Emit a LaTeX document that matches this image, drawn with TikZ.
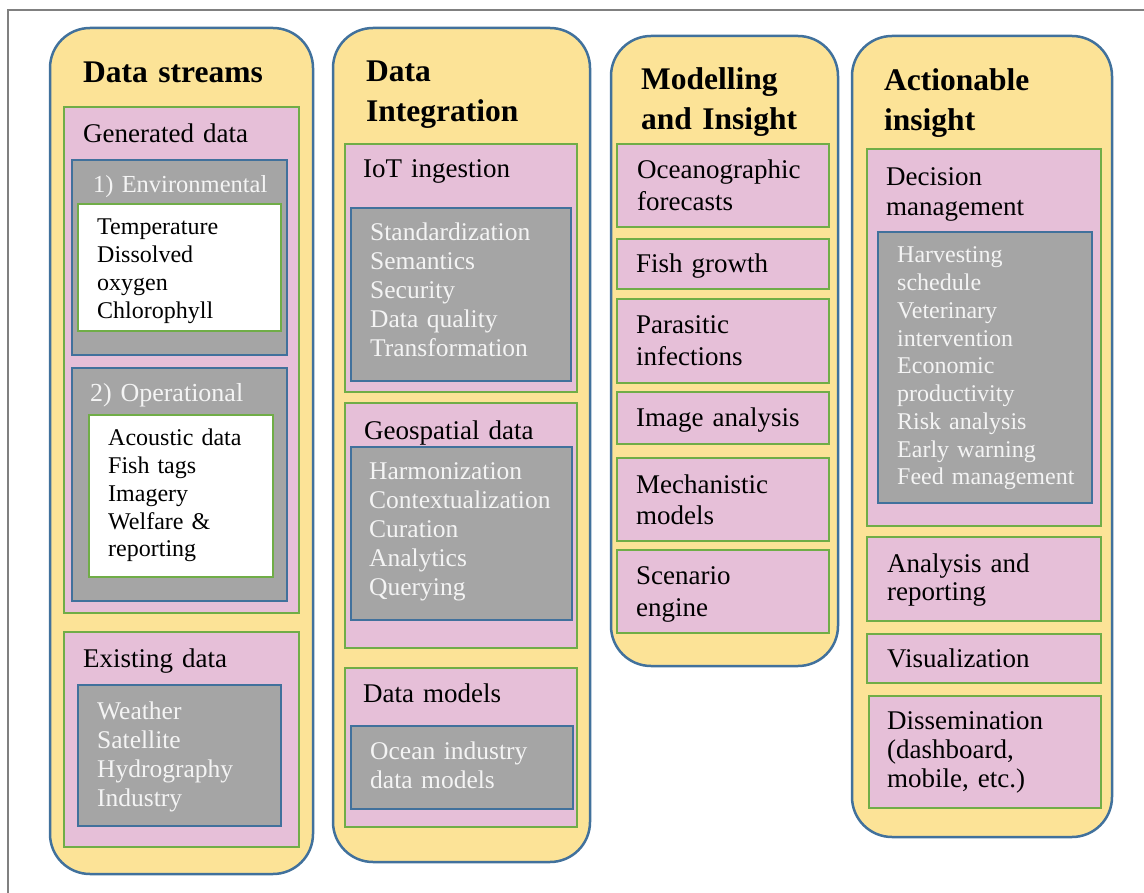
\documentclass[tikz,border=0pt]{standalone}
\usepackage{fontspec}
\setmainfont{Liberation Serif}
\usetikzlibrary{positioning}
\definecolor{colfill}{RGB}{252,227,151}
\definecolor{colline}{RGB}{65,113,156}
\definecolor{pinkfill}{RGB}{230,191,216}
\definecolor{greenline}{RGB}{112,173,71}
\definecolor{grayfill}{RGB}{165,165,165}
\definecolor{framegray}{RGB}{128,128,128}
\definecolor{listwhite}{RGB}{244,244,244}
\tikzset{
    colbox/.style={
        draw=colline, fill=colfill, line width=2.5pt, rounded corners=40pt
    },
    pinkbox/.style={draw=greenline, fill=pinkfill, line width=2.5pt},
    graybox/.style={draw=colline, fill=grayfill, line width=2.5pt},
    whitebox/.style={draw=greenline, fill=white, line width=2.5pt},
    coltitle/.style={
        anchor=base west, inner sep=0pt, text width=230pt, align=left,
        font=\bfseries\fontsize{31.5}{40}\selectfont
    },
    head/.style={
        anchor=base west, inner sep=0pt, text width=215pt, align=left,
        font=\fontsize{27}{32}\selectfont
    },
    graylist/.style={
        anchor=base west, inner sep=0pt, text width=200pt, align=left,
        text=listwhite, font=\fontsize{25.5}{29}\selectfont
    },
    whitelist/.style={
        anchor=base west, inner sep=0pt, text width=180pt, align=left,
        font=\fontsize{24}{27.7}\selectfont
    }
}

\begin{document}
\begin{tikzpicture}[x=1pt, y=-1pt]
\useasboundingbox (0,0) rectangle (1144,893);

% Frame
\draw[framegray, line width=1.5pt] (8,893) -- (8,10) -- (1144,10);

% Data streams
\path[colbox] (50,28) rectangle (313,874);
\node[coltitle] (dstitle) at (83,83) {Data streams};
\path[pinkbox] (64,107) rectangle (299,613);
\node[head] (gen) at (83,143) {Generated data};
\path[graybox] (72,160) rectangle (287,355);
\node[graylist, font=\fontsize{24.5}{29}\selectfont] (env) at (93,193) {1) Environmental};
\path[whitebox] (78,204) rectangle (281,331);
\node[whitelist] (envlist) at (97,235) {Temperature\\Dissolved\\oxygen\\Chlorophyll};
\path[graybox] (72,368) rectangle (287,601);
\node[graylist, font=\fontsize{26}{29}\selectfont] (ops) at (90,402) {2) Operational};
\path[whitebox] (89,415) rectangle (273,577);
\node[whitelist] (opslist) at (108,446) {Acoustic data\\Fish tags\\Imagery\\Welfare \&\\reporting};
\path[pinkbox] (64,632) rectangle (299,847);
\node[head] (exist) at (83,667) {Existing data};
\path[graybox] (78,685) rectangle (281,826);
\node[graylist] (existlist) at (97,719) {Weather\\Satellite\\Hydrography\\Industry};

% Data integration
\path[colbox] (333,28) rectangle (590,862);
\node[coltitle] (dititle) at (366,82) {Data\\Integration};
\path[pinkbox] (345,144) rectangle (577,392);
\node[head] (iot) at (363,178) {IoT ingestion};
\path[graybox] (351,208) rectangle (571,381);
\node[graylist] (iotlist) at (370,241) {Standardization\\Semantics\\Security\\Data quality\\Transformation};
\path[pinkbox] (345,403) rectangle (577,648);
\node[head] (geo) at (364,439) {Geospatial data};
\path[graybox] (351,447) rectangle (572,620);
\node[graylist] (geolist) at (369,479) {Harmonization\\Contextualization\\Curation\\Analytics\\Querying};
\path[pinkbox] (345,668) rectangle (577,827);
\node[head] (dm) at (363,702) {Data models};
\path[graybox] (351,726) rectangle (573,809);
\node[graylist] (dmlist) at (370,759) {Ocean industry\\data models};

% Modelling and insight
\path[colbox] (611,36) rectangle (838,666);
\node[coltitle] (mititle) at (641,90) {Modelling\\and Insight};
\path[pinkbox] (617,144) rectangle (829,227);
\node[head] (ocean) at (637,179) {Oceanographic\\forecasts};
\path[pinkbox] (617,239) rectangle (829,289);
\node[head] (fish) at (636,273) {Fish growth};
\path[pinkbox] (617,299) rectangle (829,383);
\node[head] (para) at (636,334) {Parasitic\\infections};
\path[pinkbox] (617,392) rectangle (829,444);
\node[head] (image) at (636,427) {Image analysis};
\path[pinkbox] (617,458) rectangle (829,541);
\node[head] (mech) at (636,493) {Mechanistic\\models};
\path[pinkbox] (617,550) rectangle (829,633);
\node[head] (scen) at (636,584) {Scenario\\engine};

% Actionable insight
\path[colbox] (852,36) rectangle (1112,837);
\node[coltitle] (aititle) at (884,91) {Actionable\\insight};
\path[pinkbox] (867,149) rectangle (1101,526);
\node[head, font=\fontsize{27}{30}\selectfont] (decision) at (886,186) {Decision\\management};
\path[graybox] (878,232) rectangle (1092,503);
\node[graylist, font=\fontsize{24}{27.75}\selectfont] (declist) at (897,263) {Harvesting\\schedule\\Veterinary\\intervention\\Economic\\productivity\\Risk analysis\\Early warning\\Feed management};
\path[pinkbox] (867,537) rectangle (1101,621);
\node[head, font=\fontsize{27}{28.5}\selectfont] (analysis) at (887,572) {Analysis and\\reporting};
\path[pinkbox] (867,634) rectangle (1101,683);
\node[head] (vis) at (887,667) {Visualization};
\path[pinkbox] (869,696) rectangle (1101,808);
\node[head, font=\fontsize{27}{29}\selectfont] (dissem) at (887,729) {Dissemination\\(dashboard,\\mobile, etc.)};

\end{tikzpicture}
\end{document}
